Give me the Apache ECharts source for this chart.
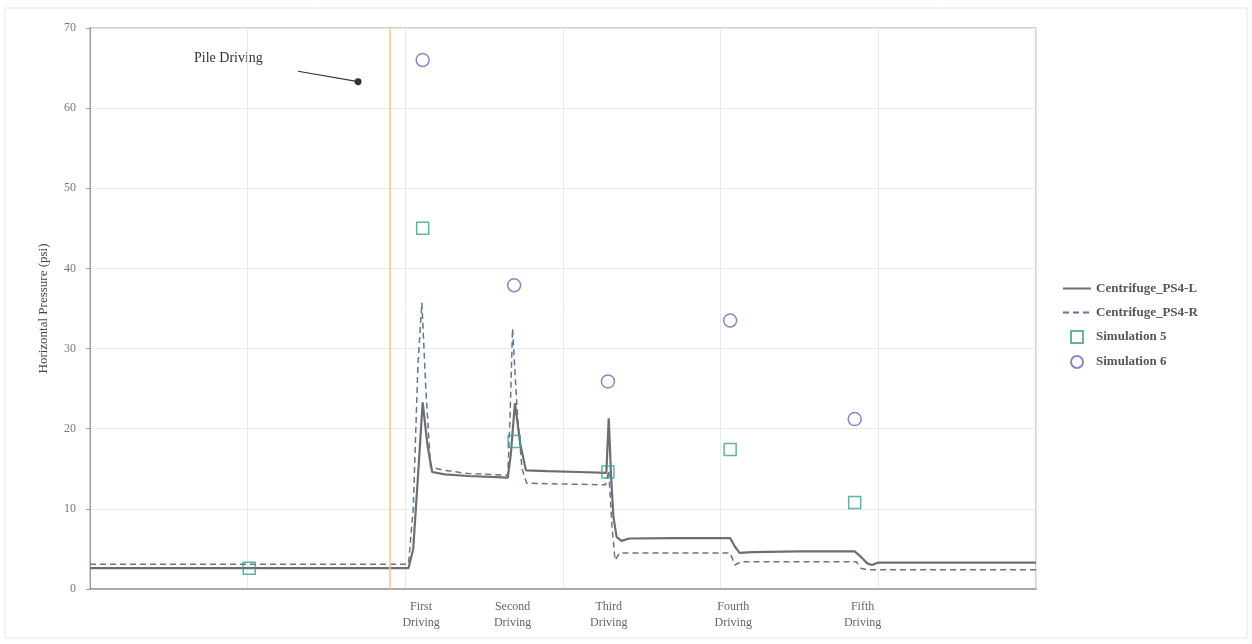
<!DOCTYPE html>
<html>
<head>
<meta charset="utf-8">
<script src="https://cdn.jsdelivr.net/npm/echarts@6/dist/echarts.min.js"></script>
<style>
html,body{margin:0;padding:0;background:#fff;}
#chart{width:1252px;height:644px;}
</style>
</head>
<body>
<div id="chart"></div>
<script>
// ---- data ----
const drivingPositions = [21.0, 26.8, 32.9, 40.8, 49.0];
const drivingLabels = ['First\nDriving', 'Second\nDriving', 'Third\nDriving', 'Fourth\nDriving', 'Fifth\nDriving'];
const yTicks = [0, 10, 20, 30, 40, 50, 60, 70];

const ps4L = [
  [0,2.6],[20.2,2.6],[20.5,5],[20.8,14],[21.1,23.3],[21.4,18],[21.7,14.6],[22.5,14.3],[24,14.1],[26.5,13.9],
  [26.7,17],[26.95,23.2],[27.3,18],[27.65,14.8],[29,14.7],[31,14.6],[32.75,14.5],[32.9,21.3],[33.05,14],
  [33.2,9],[33.4,6.5],[33.7,6.0],[34.2,6.3],[37,6.35],[40.6,6.35],[40.9,5.3],[41.2,4.5],[42,4.6],[45,4.7],
  [48.5,4.7],[48.9,4.0],[49.3,3.2],[49.6,3.0],[50,3.3],[60,3.3]
];
const ps4R = [
  [0,3.1],[20.2,3.1],[20.5,10],[20.8,28],[21.05,35.7],[21.3,25],[21.6,15.2],[22.5,14.8],[24,14.4],[26.5,14.2],
  [26.65,22],[26.8,32.5],[27.1,22],[27.4,15],[27.7,13.2],[30,13.1],[32.7,13],[32.9,14.8],[33.1,8],[33.3,3.6],
  [33.6,4.5],[37,4.5],[40.6,4.5],[40.9,3.0],[41.3,3.4],[45,3.4],[48.6,3.4],[48.9,2.6],[49.3,2.4],[60,2.4]
];
const sim5 = [[10.1,2.6],[21.1,45],[26.9,18.4],[32.85,14.6],[40.6,17.4],[48.5,10.8]];
const sim6 = [[21.1,66],[26.9,37.9],[32.85,25.9],[40.6,33.5],[48.5,21.2]];
const pileDrivingX = 19.0;
const arrowFrom = [13.2, 64.6];
const arrowTo = [17.0, 63.3];

const serif = '"Liberation Serif", "DejaVu Serif", serif';

const chart = echarts.init(document.getElementById('chart'));
chart.setOption({
  backgroundColor: '#ffffff',
  animation: false,
  grid: { left: 90, right: 216, top: 28, bottom: 55, show: true, borderColor: '#c4c4c4', borderWidth: 1.5 },
  graphic: [
    { type: 'rect', shape: { x: 5, y: 8, width: 1242, height: 630 }, style: { fill: 'none', stroke: '#e6e6e6', lineWidth: 1 }, silent: true },
    { type: 'text', left: 194, top: 51, style: { text: 'Pile Driving', font: '14px ' + serif, fill: '#333' } }
  ],
  legend: {
    orient: 'vertical', left: 1057, top: 277, itemGap: 11, itemWidth: 28, itemHeight: 12,
    textStyle: { fontFamily: serif, fontSize: 13, fontWeight: 'bold', color: '#555' },
    data: [
      { name: 'Centrifuge_PS4-L', itemStyle: { opacity: 0 } },
      { name: 'Centrifuge_PS4-R', itemStyle: { opacity: 0 } },
      { name: 'Simulation 5', icon: 'path://M0,0H10V10H0Z' },
      { name: 'Simulation 6' }
    ]
  },
  xAxis: {
    type: 'value', min: 0, max: 60, interval: 10,
    axisLine: { show: true, lineStyle: { color: '#9a9a9a', width: 1.5 } },
    axisTick: { show: false },
    splitLine: { show: true, lineStyle: { color: '#e8e8e8', width: 1 } },
    axisLabel: {
      show: true, customValues: drivingPositions, margin: 10,
      fontFamily: serif, fontSize: 12, color: '#666', lineHeight: 16,
      formatter: function (v) {
        for (let i = 0; i < drivingPositions.length; i++) if (Math.abs(drivingPositions[i] - v) < 1e-6) return drivingLabels[i];
        return '';
      }
    }
  },
  yAxis: {
    type: 'value', min: 0, max: 70, interval: 10,
    name: 'Horizontal Pressure (psi)', nameLocation: 'middle', nameGap: 40,
    nameTextStyle: { fontFamily: serif, fontSize: 13, color: '#444' },
    axisLine: { show: true, lineStyle: { color: '#9a9a9a', width: 1 } },
    axisTick: { show: true, length: 4, lineStyle: { color: '#9a9a9a' } },
    splitLine: { show: true, lineStyle: { color: '#e8e8e8', width: 1 } },
    axisLabel: { fontFamily: serif, fontSize: 12, color: '#777', margin: 14,
      formatter: function (v) { return yTicks.indexOf(v) >= 0 ? String(v) : ''; } }
  },
  series: [
    {
      name: 'Centrifuge_PS4-L', type: 'line', data: ps4L, symbol: 'none', z: 3,
      lineStyle: { color: '#6e6e6e', width: 2.2 }, itemStyle: { color: '#6e6e6e' },
      markLine: {
        silent: true, symbol: 'none', label: { show: false },
        lineStyle: { color: '#f2c48a', width: 1.5, type: 'solid' },
        data: [{ xAxis: pileDrivingX }]
      }
    },
    {
      name: 'Centrifuge_PS4-R', type: 'line', data: ps4R, symbol: 'none', z: 2,
      lineStyle: { color: '#5f7694', width: 1.5, type: [6, 4] }, itemStyle: { color: '#5f7694' },
      markLine: {
        silent: true, symbol: ['none', 'circle'], symbolSize: 7, label: { show: false },
        lineStyle: { color: '#333', width: 1.2, type: 'solid' },
        data: [[{ coord: arrowFrom }, { coord: arrowTo }]]
      }
    },
    {
      name: 'Simulation 5', type: 'scatter', data: sim5, symbol: 'rect', symbolSize: 12, z: 4,
      symbolKeepAspect: true,
      itemStyle: { color: 'rgba(0,0,0,0)', borderColor: '#3f9f86', borderWidth: 1.5 }
    },
    {
      name: 'Simulation 6', type: 'scatter', data: sim6, symbol: 'circle', symbolSize: 13, z: 4,
      itemStyle: { color: 'rgba(0,0,0,0)', borderColor: '#7563b8', borderWidth: 1.5 }
    }
  ]
});
</script>
</body>
</html>
